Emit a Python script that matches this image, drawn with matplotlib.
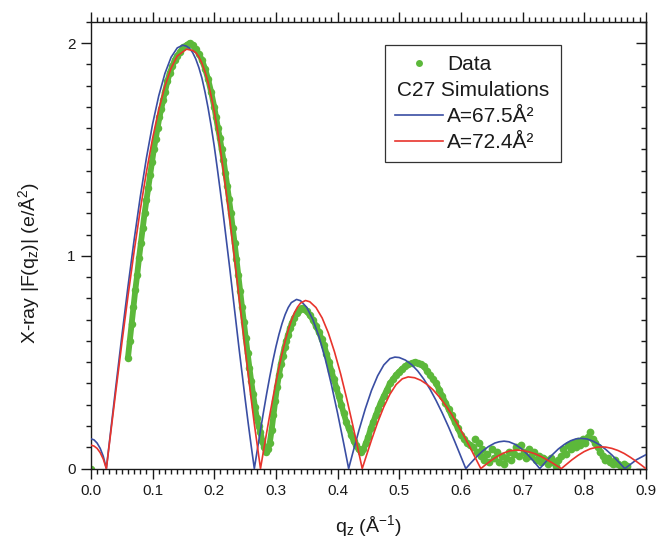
import matplotlib
matplotlib.use('Agg')
import matplotlib.pyplot as plt
from matplotlib.lines import Line2D
from matplotlib.ticker import MultipleLocator, FormatStrFormatter

plt.rcParams['font.family'] = ['Liberation Sans', 'DejaVu Sans']
plt.rcParams['mathtext.fontset'] = 'custom'
plt.rcParams['mathtext.rm'] = 'Liberation Sans'
plt.rcParams['mathtext.it'] = 'Liberation Sans:italic'

# ---------------- data ----------------
# C27 simulation, A = 67.5 Å^2
q_sim1 = [0.000, 0.005, 0.010, 0.015, 0.020, 0.025, 0.030, 0.040, 0.050, 0.060,
          0.070, 0.080, 0.090, 0.100, 0.110, 0.120, 0.130, 0.140, 0.149, 0.155,
          0.160, 0.165, 0.170, 0.175, 0.180, 0.185, 0.190, 0.195, 0.200, 0.205,
          0.210, 0.215, 0.220, 0.225, 0.230, 0.235, 0.240, 0.245, 0.250, 0.255,
          0.260, 0.265, 0.270, 0.275, 0.280, 0.285, 0.290, 0.295, 0.300, 0.305,
          0.310, 0.315, 0.320, 0.325, 0.3335, 0.340, 0.350, 0.360, 0.370, 0.380,
          0.390, 0.400, 0.410, 0.418, 0.425, 0.435, 0.445, 0.455, 0.465, 0.475,
          0.485, 0.493, 0.500, 0.510, 0.520, 0.530, 0.540, 0.550, 0.560, 0.570,
          0.580, 0.590, 0.600, 0.608, 0.615, 0.625, 0.635, 0.645, 0.655, 0.662,
          0.670, 0.678, 0.688, 0.698, 0.708, 0.718, 0.728, 0.738, 0.748, 0.758,
          0.768, 0.778, 0.787, 0.795, 0.805, 0.815, 0.825, 0.835, 0.845, 0.855,
          0.866, 0.875, 0.885, 0.900]
F_sim1 = [0.140, 0.135, 0.120, 0.095, 0.058, 0.000, 0.126, 0.376, 0.620, 0.854,
          1.074, 1.277, 1.460, 1.619, 1.752, 1.857, 1.933, 1.977, 1.990, 1.985,
          1.975, 1.955, 1.925, 1.885, 1.835, 1.770, 1.695, 1.610, 1.515, 1.410,
          1.300, 1.185, 1.065, 0.945, 0.820, 0.695, 0.570, 0.450, 0.330, 0.215,
          0.105, 0.000, 0.091, 0.181, 0.268, 0.352, 0.431, 0.505, 0.572, 0.631,
          0.682, 0.724, 0.757, 0.780, 0.795, 0.789, 0.758, 0.700, 0.619, 0.516,
          0.395, 0.261, 0.118, 0.000, 0.077, 0.183, 0.281, 0.367, 0.436, 0.487,
          0.517, 0.524, 0.522, 0.510, 0.489, 0.459, 0.420, 0.373, 0.319, 0.260,
          0.196, 0.128, 0.057, 0.000, 0.023, 0.054, 0.082, 0.104, 0.120, 0.126,
          0.129, 0.126, 0.114, 0.094, 0.067, 0.035, 0.000, 0.033, 0.064, 0.092,
          0.114, 0.131, 0.140, 0.142, 0.139, 0.128, 0.112, 0.090, 0.064, 0.034,
          0.000, 0.020, 0.042, 0.065]

# C27 simulation, A = 72.4 Å^2
q_sim2 = [0.000, 0.005, 0.010, 0.015, 0.020, 0.025, 0.030, 0.040, 0.050, 0.060,
          0.070, 0.080, 0.090, 0.100, 0.110, 0.120, 0.130, 0.140, 0.155, 0.160,
          0.165, 0.170, 0.175, 0.180, 0.185, 0.190, 0.195, 0.200, 0.205, 0.210,
          0.215, 0.220, 0.225, 0.230, 0.235, 0.240, 0.245, 0.250, 0.255, 0.260,
          0.265, 0.270, 0.275, 0.280, 0.285, 0.290, 0.295, 0.300, 0.305, 0.310,
          0.315, 0.320, 0.325, 0.330, 0.335, 0.340, 0.348, 0.355, 0.365, 0.375,
          0.385, 0.395, 0.405, 0.415, 0.425, 0.433, 0.440, 0.445, 0.455, 0.465,
          0.475, 0.485, 0.495, 0.505, 0.5146, 0.525, 0.535, 0.545, 0.555, 0.565,
          0.575, 0.585, 0.595, 0.605, 0.615, 0.625, 0.6324, 0.640, 0.650, 0.660,
          0.670, 0.680, 0.690, 0.700, 0.710, 0.720, 0.730, 0.740, 0.750, 0.763,
          0.770, 0.780, 0.790, 0.800, 0.810, 0.820, 0.828, 0.835, 0.845, 0.855,
          0.865, 0.875, 0.885, 0.893, 0.900]
F_sim2 = [0.110, 0.106, 0.095, 0.075, 0.045, 0.000, 0.119, 0.355, 0.586, 0.809,
          1.020, 1.216, 1.394, 1.552, 1.687, 1.797, 1.882, 1.939, 1.971, 1.968,
          1.965, 1.955, 1.935, 1.905, 1.865, 1.815, 1.750, 1.680, 1.595, 1.500,
          1.395, 1.285, 1.175, 1.055, 0.935, 0.810, 0.690, 0.565, 0.445, 0.325,
          0.210, 0.105, 0.000, 0.085, 0.169, 0.251, 0.330, 0.405, 0.475, 0.540,
          0.599, 0.651, 0.695, 0.732, 0.759, 0.778, 0.790, 0.784, 0.757, 0.708,
          0.638, 0.549, 0.445, 0.327, 0.200, 0.094, 0.000, 0.045, 0.134, 0.217,
          0.290, 0.350, 0.395, 0.422, 0.431, 0.427, 0.415, 0.396, 0.370, 0.337,
          0.299, 0.255, 0.206, 0.154, 0.099, 0.042, 0.000, 0.018, 0.040, 0.059,
          0.074, 0.084, 0.087, 0.085, 0.079, 0.070, 0.057, 0.041, 0.024, 0.000,
          0.017, 0.041, 0.062, 0.080, 0.093, 0.100, 0.102, 0.101, 0.095, 0.085,
          0.071, 0.053, 0.033, 0.016, 0.000]

# Experimental data (continuous part)
q_data = [0.000, 0.060, 0.063, 0.066, 0.069, 0.072, 0.075, 0.078, 0.081, 0.084,
          0.087, 0.090, 0.093, 0.096, 0.099, 0.102, 0.105, 0.108, 0.111, 0.114,
          0.117, 0.120, 0.124, 0.128, 0.132, 0.136, 0.140, 0.145, 0.150, 0.155,
          0.160, 0.165, 0.170, 0.175, 0.180, 0.185, 0.190, 0.195, 0.200, 0.203,
          0.206, 0.209, 0.212, 0.215, 0.218, 0.221, 0.224, 0.227, 0.230, 0.233,
          0.236, 0.239, 0.242, 0.245, 0.248, 0.251, 0.254, 0.257, 0.260, 0.263,
          0.266, 0.269, 0.272, 0.275, 0.278, 0.281, 0.284, 0.287, 0.290, 0.293,
          0.296, 0.299, 0.302, 0.305, 0.308, 0.311, 0.314, 0.317, 0.320, 0.323,
          0.326, 0.330, 0.334, 0.338, 0.342, 0.346, 0.350, 0.355, 0.360, 0.365,
          0.370, 0.374, 0.378, 0.382, 0.386, 0.390, 0.394, 0.398, 0.402, 0.406,
          0.410, 0.414, 0.418, 0.422, 0.426, 0.430, 0.434, 0.438, 0.442, 0.446,
          0.450, 0.454, 0.458, 0.462, 0.466, 0.470, 0.475, 0.480, 0.485, 0.490,
          0.495, 0.500, 0.505, 0.510, 0.515, 0.520, 0.525, 0.530, 0.535, 0.540,
          0.545, 0.550, 0.555, 0.560, 0.565, 0.570, 0.575, 0.580, 0.585, 0.590,
          0.595, 0.600, 0.605, 0.610, 0.615]
F_data = [0.000, 0.520, 0.600, 0.680, 0.760, 0.840, 0.910, 0.990, 1.060, 1.130,
          1.200, 1.260, 1.320, 1.380, 1.440, 1.500, 1.550, 1.600, 1.650, 1.690,
          1.730, 1.770, 1.820, 1.860, 1.890, 1.920, 1.940, 1.960, 1.980, 1.990,
          2.000, 1.990, 1.970, 1.950, 1.920, 1.880, 1.830, 1.770, 1.700, 1.650,
          1.600, 1.555, 1.500, 1.450, 1.390, 1.330, 1.265, 1.200, 1.130, 1.060,
          0.985, 0.910, 0.835, 0.760, 0.690, 0.615, 0.545, 0.475, 0.410, 0.350,
          0.290, 0.240, 0.200, 0.170, 0.130, 0.100, 0.080, 0.090, 0.120, 0.180,
          0.250, 0.320, 0.385, 0.440, 0.490, 0.530, 0.570, 0.600, 0.630, 0.660,
          0.685, 0.710, 0.730, 0.745, 0.755, 0.750, 0.740, 0.720, 0.700, 0.670,
          0.640, 0.610, 0.580, 0.540, 0.500, 0.460, 0.420, 0.380, 0.340, 0.300,
          0.260, 0.220, 0.190, 0.160, 0.130, 0.110, 0.090, 0.080, 0.090, 0.120,
          0.150, 0.190, 0.220, 0.250, 0.280, 0.310, 0.340, 0.370, 0.400, 0.420,
          0.440, 0.455, 0.470, 0.480, 0.490, 0.495, 0.500, 0.495, 0.490, 0.480,
          0.460, 0.440, 0.420, 0.400, 0.370, 0.340, 0.310, 0.280, 0.250, 0.220,
          0.190, 0.160, 0.140, 0.120, 0.110]

# Experimental data (noisy high-q tail)
q_tail = [0.620, 0.623, 0.626, 0.629, 0.632, 0.635, 0.638, 0.642, 0.646, 0.650,
          0.654, 0.658, 0.662, 0.666, 0.670, 0.674, 0.678, 0.682, 0.686, 0.690,
          0.694, 0.698, 0.702, 0.706, 0.710, 0.714, 0.718, 0.722, 0.726, 0.730,
          0.734, 0.738, 0.742, 0.746, 0.750, 0.754, 0.758, 0.762, 0.766, 0.770,
          0.774, 0.778, 0.782, 0.786, 0.790, 0.794, 0.798, 0.802, 0.806, 0.810,
          0.814, 0.818, 0.822, 0.826, 0.830, 0.834, 0.838, 0.842, 0.846, 0.850,
          0.855, 0.860, 0.865, 0.870]
F_tail = [0.100, 0.140, 0.080, 0.120, 0.060, 0.090, 0.040, 0.070, 0.030, 0.090,
          0.050, 0.080, 0.030, 0.060, 0.020, 0.050, 0.080, 0.040, 0.070, 0.100,
          0.060, 0.110, 0.080, 0.050, 0.090, 0.060, 0.080, 0.040, 0.060, 0.030,
          0.050, 0.040, 0.020, 0.050, 0.030, 0.010, 0.040, 0.060, 0.090, 0.070,
          0.110, 0.090, 0.120, 0.100, 0.130, 0.110, 0.140, 0.120, 0.150, 0.170,
          0.140, 0.120, 0.100, 0.080, 0.060, 0.040, 0.050, 0.030, 0.020, 0.040,
          0.020, 0.010, 0.020, 0.010]

x_ticks = [0.0, 0.1, 0.2, 0.3, 0.4, 0.5, 0.6, 0.7, 0.8, 0.9]
y_ticks = [0, 1, 2]

label_data = 'Data'
label_group = 'C27 Simulations'
label_sim1 = 'A=67.5Å²'
label_sim2 = 'A=72.4Å²'

# ---------------- style ----------------
GREEN = '#5cb83a'
BLUE = '#3a4ea3'
RED = '#e8342c'
TXT = '#1a1a1a'

fig = plt.figure(figsize=(6.59, 5.43), dpi=100)
ax = fig.add_axes([0.138, 0.137, 0.842, 0.823])

# data (under the simulation lines)
ax.plot(q_data[1:], F_data[1:], '-', color=GREEN, lw=4.2, zorder=1, solid_capstyle='round')
ax.plot(q_data, F_data, 'o', color=GREEN, ms=5.4, mec='none', zorder=1.1)
ax.plot(q_tail, F_tail, 'o', color=GREEN, ms=5.6, mec='none', zorder=1.1)

ax.plot(q_sim1, F_sim1, '-', color=BLUE, lw=1.2, zorder=3)
ax.plot(q_sim2, F_sim2, '-', color=RED, lw=1.2, zorder=3)

ax.set_xlim(0.0, 0.9)
ax.set_ylim(0.0, 2.1)

ax.set_xticks(x_ticks)
ax.set_yticks(y_ticks)
ax.xaxis.set_major_formatter(FormatStrFormatter('%.1f'))
ax.yaxis.set_major_formatter(FormatStrFormatter('%d'))
ax.xaxis.set_minor_locator(MultipleLocator(0.01))
ax.yaxis.set_minor_locator(MultipleLocator(0.1))

ax.tick_params(axis='both', which='major', direction='out', length=7, width=1.0,
               labelsize=11, colors=TXT, pad=4)
ax.tick_params(axis='both', which='minor', direction='out', length=3.5, width=1.0, colors=TXT)
ax.tick_params(axis='x', which='both', top=True, labeltop=False)
ax.tick_params(axis='y', which='both', right=False)

sec = ax.secondary_yaxis('right')
sec.set_yticks(y_ticks)
sec.yaxis.set_minor_locator(MultipleLocator(0.1))
sec.tick_params(axis='y', which='major', direction='in', length=7, width=1.0, labelright=False, colors=TXT)
sec.tick_params(axis='y', which='minor', direction='in', length=3.5, width=1.0, colors=TXT)
sec.spines['right'].set_linewidth(1.0)
sec.spines['right'].set_color(TXT)

for s in ax.spines.values():
    s.set_linewidth(1.0)
    s.set_color(TXT)

ax.set_xlabel(r'q$_\mathregular{z}$ (Å$^\mathregular{-1}$)', fontsize=14, color=TXT)
ax.set_ylabel(r'X-ray |F(q$_\mathregular{z}$)| (e/Å$^\mathregular{2}$)', fontsize=14, color=TXT)
ax.xaxis.set_label_coords(0.5, -0.10)
ax.yaxis.set_label_coords(-0.088, 0.46)

# legend
h_data = Line2D([], [], ls='none', marker='o', color=GREEN, ms=5.0, mec='none')
h_blank = Line2D([], [], ls='none', alpha=0)
h_blue = Line2D([], [], color=BLUE, lw=1.2)
h_red = Line2D([], [], color=RED, lw=1.2)
lw_ax = 0.317
leg = ax.legend([h_data, h_blank, h_blue, h_red], [label_data, ' ', label_sim1, label_sim2],
                loc='upper left', bbox_to_anchor=(0.847 - lw_ax, 0.948 - 0.26, lw_ax, 0.26),
                mode='expand', borderaxespad=0, fontsize=15, handlelength=2.3,
                handletextpad=0.2, labelspacing=0.34, borderpad=0.48,
                frameon=True, fancybox=False, edgecolor='#333333', framealpha=1)
leg.get_frame().set_linewidth(0.9)
for t in leg.get_texts():
    t.set_color(TXT)

fig.canvas.draw()
r = fig.canvas.get_renderer()
fb = leg.get_frame().get_window_extent(r)
tb = leg.get_texts()[1].get_window_extent(r)
W, H = fig.bbox.width, fig.bbox.height
fig.text((fb.x0 + fb.x1) / 2 / W, (tb.y0 + tb.y1) / 2 / H, label_group,
         ha='center', va='center', fontsize=15, color=TXT)

fig.savefig('out.png', dpi=100)
